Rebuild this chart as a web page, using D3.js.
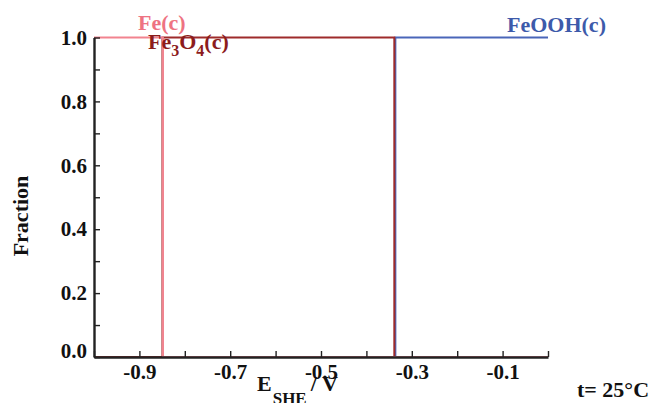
<!DOCTYPE html>
<html>
<head>
<meta charset="utf-8">
<script src="https://cdn.jsdelivr.net/npm/d3@7"></script>
<style>
  html, body { margin: 0; padding: 0; background: #fff; }
  svg text { font-family: "Liberation Serif", "Times New Roman", serif; font-weight: bold; }
</style>
</head>
<body>
<svg id="chart" width="654" height="403"></svg>
<script>
// ---- data ----
const feE = [-1.0, -0.8482, -0.8482, 0.0];
const feF = [1, 1, 0, 0];
const fe3o4E = [-1.0, -0.8492, -0.8492, -0.3385, -0.3385, 0.0];
const fe3o4F = [0, 0, 1, 1, 0, 0];
const feoohE = [-1.0, -0.3362, -0.3362, 0.0];
const feoohF = [0, 0, 1, 1];
const xTickValues = [-1.0, -0.9, -0.8, -0.7, -0.6, -0.5, -0.4, -0.3, -0.2, -0.1, 0.0];
const xTickLabels = ["", "-0.9", "", "-0.7", "", "-0.5", "", "-0.3", "", "-0.1", ""];
const yTickValues = [0.0, 0.1, 0.2, 0.3, 0.4, 0.5, 0.6, 0.7, 0.8, 0.9, 1.0];
const yTickLabels = ["0.0", "", "0.2", "", "0.4", "", "0.6", "", "0.8", "", "1.0"];

const colors = { fe: "#f2838f", fe3o4: "#9e2b2b", feooh: "#4a66b9" };
const textColors = { fe: "#ee7382", fe3o4: "#8c1c1c", feooh: "#3d5aaa" };

const svg = d3.select("#chart");
const x = d3.scaleLinear().domain([-1.0, 0.0]).range([94, 548]);
const y = d3.scaleLinear().domain([0, 1]).range([357, 37.5]);

const line = d3.line().x(d => x(d[0])).y(d => y(d[1]));
function series(E, F) { return E.map((e, i) => [e, F[i]]); }

const g = svg.append("g");
g.append("path").datum(series(feoohE, feoohF)).attr("d", line)
  .attr("fill", "none").attr("stroke", colors.feooh).attr("stroke-width", 2);
g.append("path").datum(series(fe3o4E, fe3o4F)).attr("d", line)
  .attr("fill", "none").attr("stroke", colors.fe3o4).attr("stroke-width", 2);
g.append("path").datum(series(feE, feF)).attr("d", line)
  .attr("fill", "none").attr("stroke", colors.fe).attr("stroke-width", 2);

// axes
const xAxis = d3.axisBottom(x).tickValues(xTickValues)
  .tickFormat((d, i) => xTickLabels[i]).tickSizeInner(-6).tickSizeOuter(0).tickPadding(7);
const gx = svg.append("g").attr("transform", `translate(0,${y(0)})`).call(xAxis);
const yAxis = d3.axisLeft(y).tickValues(yTickValues)
  .tickFormat((d, i) => yTickLabels[i]).tickSizeInner(-6).tickSizeOuter(0).tickPadding(7);
const gy = svg.append("g").attr("transform", `translate(${x(-1.0)},0)`).call(yAxis);

[gx, gy].forEach(a => {
  a.select(".domain").attr("stroke", "#222").attr("stroke-width", 2.4);
  a.selectAll(".tick line").attr("stroke", "#222").attr("stroke-width", 1.4);
  a.selectAll(".tick text").attr("fill", "#111").style("font-size", "21px")
    .style("font-family", "'Liberation Serif', serif").style("font-weight", "bold");
});
gy.selectAll(".tick").filter(d => d === 0).select("text").attr("dy", "0.0em");

// species labels
svg.append("text").attr("x", 138).attr("y", 30).attr("fill", textColors.fe)
  .style("font-size", "22px").text("Fe(c)");

const t2 = svg.append("text").attr("x", 148).attr("y", 49).attr("fill", textColors.fe3o4)
  .style("font-size", "22px");
t2.append("tspan").text("Fe");
t2.append("tspan").attr("dy", 7).style("font-size", "16px").text("3");
t2.append("tspan").attr("dy", -7).text("O");
t2.append("tspan").attr("dy", 7).style("font-size", "16px").text("4");
t2.append("tspan").attr("dy", -7).text("(c)");

svg.append("text").attr("x", 507).attr("y", 32).attr("fill", textColors.feooh)
  .style("font-size", "22px").text("FeOOH(c)");

// axis titles
const xt = svg.append("text").attr("x", 257).attr("y", 391).attr("fill", "#111")
  .style("font-size", "22px");
xt.append("tspan").text("E");
xt.append("tspan").attr("dy", 13).attr("dx", 1).style("font-size", "17px").text("SHE");
xt.append("tspan").attr("dy", -13).attr("dx", 4).text("/ V");

svg.append("text").attr("transform", "translate(28,216) rotate(-90)")
  .attr("text-anchor", "middle").attr("fill", "#111").style("font-size", "22px").text("Fraction");

svg.append("text").attr("x", 577).attr("y", 397).attr("fill", "#111")
  .style("font-size", "22px").text("t= 25°C");
</script>
</body>
</html>
